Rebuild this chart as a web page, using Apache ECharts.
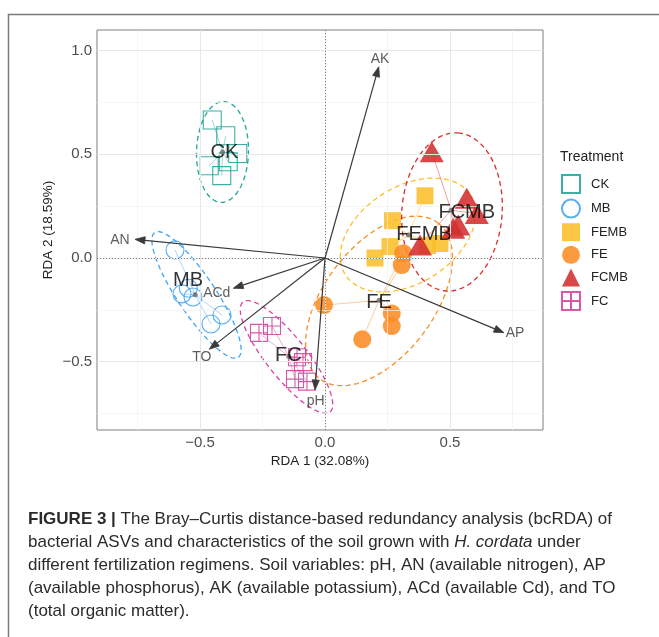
<!DOCTYPE html>
<html><head><meta charset="utf-8">
<script src="https://cdn.jsdelivr.net/npm/echarts@6/dist/echarts.min.js"></script>
<style>html,body{margin:0;padding:0;background:#fff}#c{width:659px;height:637px}</style>
</head><body><div id="c"></div>
<script>
// ---------------- data ----------------
const groups = ['CK', 'MB', 'FEMB', 'FE', 'FCMB', 'FC'];
const xTicks = [-0.5, 0, 0.5];
const yTicks = [-0.5, 0, 0.5, 1.0];
const xMinor = [-0.75, -0.25, 0.25, 0.75];
const yMinor = [-0.75, -0.25, 0.25, 0.75];

const ckX = [-0.451, -0.397, -0.349, -0.387, -0.463, -0.413];
const ckY = [0.665, 0.589, 0.504, 0.464, 0.445, 0.397];
const mbX = [-0.600, -0.572, -0.528, -0.547, -0.412, -0.456];
const mbY = [0.039, -0.173, -0.188, -0.146, -0.275, -0.318];
const fembX = [0.40, 0.27, 0.26, 0.20, 0.46, 0.41];
const fembY = [0.30, 0.18, 0.055, 0.0, 0.07, 0.06];
const feX = [-0.004, 0.267, 0.267, 0.149, 0.313, 0.307];
const feY = [-0.227, -0.267, -0.328, -0.392, 0.023, -0.034];
const fcmbX = [0.427, 0.567, 0.607, 0.533, 0.513, 0.38];
const fcmbY = [0.512, 0.288, 0.215, 0.159, 0.143, 0.063];
const fcX = [-0.264, -0.212, -0.112, -0.088, -0.12, -0.072];
const fcY = [-0.361, -0.328, -0.478, -0.502, -0.584, -0.596];

// group label positions
const labelX = [-0.402, -0.548, 0.396, 0.216, 0.567, -0.147];
const labelY = [0.511, -0.108, 0.111, -0.214, 0.219, -0.471];

// 95% ellipses: centre and two half-axis vectors (data units)
const ellCX = [-0.41, -0.514, 0.332, 0.216, 0.508, -0.154];
const ellCY = [0.511, -0.178, 0.111, -0.207, 0.222, -0.477];
const ellAX = [0.004, 0.167, 0.25, 0.236, 0.024, 0.174];
const ellAY = [0.243, -0.301, 0.193, 0.376, 0.381, -0.265];
const ellBX = [0.104, 0.063, 0.104, 0.175, 0.20, 0.063];
const ellBY = [0.0, 0.051, -0.195, -0.16, -0.018, 0.060];

// environmental vectors
const envNames = ['AK', 'AN', 'ACd', 'TO', 'pH', 'AP'];
const envX = [0.215, -0.76, -0.367, -0.463, -0.04, 0.716];
const envY = [0.922, 0.09, -0.146, -0.44, -0.636, -0.36];
const envLabelX = [0.22, -0.82, -0.433, -0.493, -0.037, 0.76];
const envLabelY = [0.959, 0.087, -0.167, -0.476, -0.689, -0.363];

// ---------------- styles ----------------
const colors = ['#26a69a', '#42a5f5', '#fbbf2a', '#fb8c23', '#d32f2f', '#d6459f'];
const FONT = 'Liberation Sans, Arial, Helvetica, sans-serif';
const fcPath = 'path://M0,0 L10,0 L10,10 L0,10 Z M5,0 L5,10 M0,5 L10,5';
const symbols = ['rect', 'circle', 'rect', 'circle', 'triangle', fcPath];
const sizes = [18, 18, 17, 18, [24, 21], 17];
const filled = [false, false, true, true, true, false];

const gx = [ckX, mbX, fembX, feX, fcmbX, fcX];
const gy = [ckY, mbY, fembY, feY, fcmbY, fcY];

const series = [];

// grid lines via markLine on an empty series
series.push({
  type: 'scatter', name: '_grid', data: [], silent: true, z: 0,
  markLine: {
    silent: true, symbol: 'none', animation: false, label: {show: false},
    data: [
      ...xMinor.map(v => ({xAxis: v, lineStyle: {color: '#f1f1f1', width: 0.7, type: 'solid'}})),
      ...yMinor.map(v => ({yAxis: v, lineStyle: {color: '#f1f1f1', width: 0.7, type: 'solid'}})),
      ...xTicks.map(v => ({xAxis: v, lineStyle: {color: '#e6e6e6', width: 1, type: 'solid'}})),
      ...yTicks.map(v => ({yAxis: v, lineStyle: {color: '#e6e6e6', width: 1, type: 'solid'}})),
      {xAxis: 0, lineStyle: {color: '#808080', width: 1, type: [1, 2]}},
      {yAxis: 0, lineStyle: {color: '#808080', width: 1, type: [1, 2]}}
    ]
  }
});

groups.forEach((g, i) => {
  const xs = gx[i], ys = gy[i];
  const mx = xs.reduce((a, b) => a + b, 0) / xs.length;
  const my = ys.reduce((a, b) => a + b, 0) / ys.length;
  // ellipse
  series.push({
    type: 'custom', name: '_ell' + g, z: 2, silent: true, clip: true,
    data: [[ellCX[i], ellCY[i], ellAX[i], ellAY[i], ellBX[i], ellBY[i]]],
    renderItem: (params, api) => {
      const cx = api.value(0), cy = api.value(1), ax = api.value(2), ay = api.value(3), bx = api.value(4), by = api.value(5);
      const pts = [];
      for (let k = 0; k <= 90; k++) {
        const t = k / 90 * Math.PI * 2;
        pts.push(api.coord([cx + ax * Math.cos(t) + bx * Math.sin(t), cy + ay * Math.cos(t) + by * Math.sin(t)]));
      }
      return {type: 'polyline', shape: {points: pts}, style: {stroke: colors[i], lineWidth: 1.3, lineDash: [5, 3.5], fill: null}};
    }
  });
  // spider lines
  series.push({
    type: 'lines', name: '_sp' + g, coordinateSystem: 'cartesian2d', z: 3, silent: true,
    lineStyle: {color: colors[i], width: 1, opacity: 0.45},
    data: xs.map((x, k) => ({coords: [[mx, my], [x, ys[k]]]}))
  });
  // points
  series.push({
    type: 'scatter', name: g, z: 4, symbol: symbols[i], symbolSize: sizes[i],
    itemStyle: filled[i]
      ? {color: colors[i], opacity: 0.88, borderWidth: 0}
      : {color: 'rgba(255,255,255,0)', borderColor: colors[i], borderWidth: 1.1, opacity: 0.9},
    emphasis: {disabled: true},
    data: xs.map((x, k) => [x, ys[k]])
  });
  // centroid
  series.push({
    type: 'scatter', name: '_c' + g, z: 5, symbol: 'circle', symbolSize: 5, silent: true,
    itemStyle: {color: '#666'}, data: [[mx, my]]
  });
  // group label
  series.push({
    type: 'scatter', name: '_l' + g, z: 8, symbolSize: 0, silent: true,
    data: [[labelX[i], labelY[i]]],
    label: {show: true, position: 'inside', formatter: g, color: '#000', fontSize: 20, fontFamily: FONT}
  });
});

// arrows
series.push({
  type: 'custom', name: '_arrows', z: 6, silent: true, clip: false,
  data: envX.map((x, k) => [x, envY[k]]),
  renderItem: (params, api) => {
    const p0 = api.coord([0, 0]);
    const p1 = api.coord([api.value(0), api.value(1)]);
    const dx = p1[0] - p0[0], dy = p1[1] - p0[1];
    const L = Math.sqrt(dx * dx + dy * dy);
    const ux = dx / L, uy = dy / L;
    const hl = 10, hw = 3.6;
    const bx = p1[0] - ux * hl, by = p1[1] - uy * hl;
    return {
      type: 'group', children: [
        {type: 'line', shape: {x1: p0[0], y1: p0[1], x2: bx, y2: by}, style: {stroke: '#3a3a3a', lineWidth: 1.2}},
        {type: 'polygon', shape: {points: [[p1[0], p1[1]], [bx - uy * hw, by + ux * hw], [bx + uy * hw, by - ux * hw]]}, style: {fill: '#3a3a3a', stroke: '#3a3a3a', lineWidth: 0.8}}
      ]
    };
  }
});
series.push({
  type: 'scatter', name: '_envlab', z: 7, symbolSize: 0, silent: true,
  data: envLabelX.map((x, k) => ({value: [x, envLabelY[k]], name: envNames[k]})),
  label: {show: true, position: 'inside', formatter: p => p.name, color: '#333', fontSize: 14, fontFamily: FONT}
});

const fmt = v => (Math.abs(v) < 1e-9 ? 0 : v).toFixed(1).replace('-', '\u2212');

const captionLines = [
  '{b|FIGURE 3 |} The Bray\u2013Curtis distance-based redundancy analysis (bcRDA) of',
  'bacterial ASVs and characteristics of the soil grown with {i|H. cordata} under',
  'different fertilization regimens. Soil variables: pH, AN (available nitrogen), AP',
  '(available phosphorus), AK (available potassium), ACd (available Cd), and TO',
  '(total organic matter).'
];
const captionY = [519, 542, 565, 588, 611];

const graphic = [
  {type: 'rect', z: -10, shape: {x: 8.5, y: 14.5, width: 900, height: 900}, style: {fill: null, stroke: '#7a7a7a', lineWidth: 1.5}},
  {type: 'text', x: 320, y: 461, style: {text: 'RDA 1 (32.08%)', font: '13.5px ' + FONT, fill: '#222', textAlign: 'center', textVerticalAlign: 'middle'}},
  {type: 'text', x: 48, y: 230, rotation: Math.PI / 2, style: {text: 'RDA 2 (18.59%)', font: '13.5px ' + FONT, fill: '#222', textAlign: 'center', textVerticalAlign: 'middle'}},
  {type: 'text', x: 560, y: 157, style: {text: 'Treatment', font: '14px ' + FONT, fill: '#222', textAlign: 'left', textVerticalAlign: 'middle'}}
];
captionLines.forEach((t, k) => {
  graphic.push({type: 'text', x: 28, y: captionY[k], style: {
    text: t, font: '17px ' + FONT, fill: '#2b2b2b', textAlign: 'left', textVerticalAlign: 'middle',
    rich: {b: {fontWeight: 'bold', fontSize: 17, fontFamily: FONT, fill: '#2b2b2b'}, i: {fontStyle: 'italic', fontSize: 17, fontFamily: FONT, fill: '#2b2b2b'}}
  }});
});

const chart = echarts.init(document.getElementById('c'), null, {renderer: 'canvas'});
chart.setOption({
  animation: false,
  backgroundColor: '#fff',
  grid: {left: 97, top: 30, width: 446, height: 400, show: true, borderColor: '#7f7f7f', borderWidth: 1, backgroundColor: 'transparent', containLabel: false},
  xAxis: {
    type: 'value', min: -0.912, max: 0.872,
    axisLine: {show: false}, splitLine: {show: false},
    axisTick: {show: true, customValues: xTicks, length: 3.5, lineStyle: {color: '#333'}},
    axisLabel: {customValues: xTicks, formatter: fmt, color: '#4d4d4d', fontSize: 15, fontFamily: FONT, margin: 5}
  },
  yAxis: {
    type: 'value', min: -0.829, max: 1.099,
    axisLine: {show: false}, splitLine: {show: false},
    axisTick: {show: true, customValues: yTicks, length: 3.5, lineStyle: {color: '#333'}},
    axisLabel: {customValues: yTicks, formatter: fmt, color: '#4d4d4d', fontSize: 15, fontFamily: FONT, margin: 5}
  },
  legend: {
    orient: 'vertical', left: 561, top: 174, padding: 0, itemWidth: 18, itemHeight: 18, itemGap: 4.6,
    selectedMode: false,
    textStyle: {fontSize: 13, fontFamily: FONT, color: '#222', padding: [0, 0, 0, 6]},
    data: groups.map((g, i) => ({name: g, icon: i === 4 ? 'triangle' : symbols[i]}))
  },
  graphic: graphic,
  series: series
});
</script>
</body></html>
